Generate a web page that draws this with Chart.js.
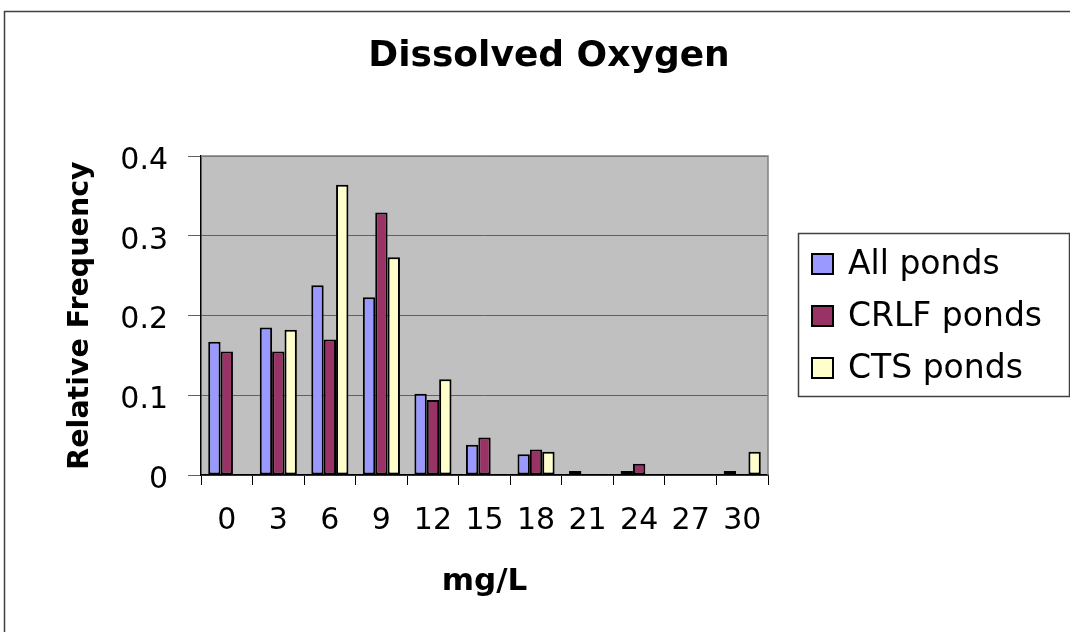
<!DOCTYPE html>
<html>
<head>
<meta charset="utf-8">
<script src="https://cdn.jsdelivr.net/npm/chart.js@4/dist/chart.umd.min.js"></script>
<style>
html,body{margin:0;padding:0;background:#fff;}
#wrap{width:1070px;height:632px;position:relative;}
</style>
</head>
<body>
<div id="wrap"><canvas id="c"></canvas></div>
<script>
const chartTitle = 'Dissolved Oxygen';
const xAxisTitle = 'mg/L';
const yAxisTitle = 'Relative Frequency';
const categories = ['0','3','6','9','12','15','18','21','24','27','30'];
const seriesNames = ['All ponds','CRLF ponds','CTS ponds'];
const allPonds  = [0.167, 0.185, 0.238, 0.223, 0.102, 0.038, 0.026, 0.005, 0.005, null, 0.005];
const crlfPonds = [0.155, 0.155, 0.170, 0.329, 0.094, 0.047, 0.032, null, 0.014, null, null];
const ctsPonds  = [null, 0.182, 0.364, 0.273, 0.120, null, 0.029, null, null, null, 0.029];
const yTickLabels = ['0','0.1','0.2','0.3','0.4'];
const seriesColors = ['#9999FF','#993366','#FFFFCC'];

const FONT = "'DejaVu Sans', sans-serif";

const decor = {
  id: 'decor',
  beforeDraw(chart) {
    const ctx = chart.ctx, a = chart.chartArea;
    ctx.save();
    ctx.fillStyle = '#ffffff';
    ctx.fillRect(0, 0, chart.width, chart.height);
    ctx.fillStyle = '#c0c0c0';
    ctx.fillRect(a.left, a.top, a.right - a.left, a.bottom - a.top);
    ctx.restore();
  },
  afterDraw(chart) {
    const ctx = chart.ctx, a = chart.chartArea;
    ctx.save();
    ctx.strokeStyle = '#808080';
    ctx.lineWidth = 1.5;
    ctx.beginPath();
    ctx.moveTo(a.left, a.top);
    ctx.lineTo(a.right, a.top);
    ctx.lineTo(a.right, a.bottom);
    ctx.stroke();
    ctx.strokeStyle = '#404040';
    ctx.lineWidth = 1.5;
    ctx.strokeRect(4.5, 11.5, chart.width + 10, chart.height + 10);
    ctx.fillStyle = '#000';
    ctx.font = "bold 36px " + FONT;
    ctx.textAlign = 'center';
    ctx.textBaseline = 'alphabetic';
    ctx.fillText(chartTitle, 549, 66);
    const lx = 798, ly = 233, lw = 271, lh = 163;
    ctx.strokeStyle = '#404040';
    ctx.lineWidth = 1.5;
    ctx.strokeRect(lx + 0.5, ly + 0.5, lw, lh);
    ctx.font = "33px " + FONT;
    ctx.textAlign = 'left';
    ctx.textBaseline = 'middle';
    chart.data.datasets.forEach((ds, i) => {
      const cy = 264 + i * 52;
      ctx.fillStyle = ds.backgroundColor;
      ctx.fillRect(812, cy - 10, 21, 20);
      ctx.strokeStyle = '#000';
      ctx.lineWidth = 2;
      ctx.strokeRect(812, cy - 10, 21, 20);
      ctx.fillStyle = '#000';
      ctx.fillText(ds.label, 848, cy + 1);
    });
    ctx.restore();
  }
};

new Chart(document.getElementById('c'), {
  type: 'bar',
  data: {
    labels: categories,
    datasets: [
      {label: seriesNames[0], data: allPonds,  backgroundColor: seriesColors[0]},
      {label: seriesNames[1], data: crlfPonds, backgroundColor: seriesColors[1]},
      {label: seriesNames[2], data: ctsPonds,  backgroundColor: seriesColors[2]}
    ].map(d => Object.assign(d, {borderColor: '#000', borderWidth: 2, barPercentage: 1, categoryPercentage: 0.72, borderSkipped: false}))
  },
  options: {
    responsive: true,
    maintainAspectRatio: false,
    animation: false,
    layout: {padding: {top: 156, right: 302, bottom: 0, left: 0}},
    plugins: {legend: {display: false}, title: {display: false}, tooltip: {enabled: false}},
    scales: {
      x: {
        grid: {display: true, drawOnChartArea: false, offset: true, tickLength: 10, color: '#000', lineWidth: 1},
        border: {display: true, color: '#000', width: 1.5},
        ticks: {color: '#000', font: {family: FONT, size: 30}, padding: 18, maxRotation: 0, autoSkip: false},
        title: {display: true, text: xAxisTitle, color: '#000', font: {family: FONT, size: 31, weight: 'bold'}, padding: {top: 0, bottom: 31}},
        afterFit(scale) { scale.height = 157; }
      },
      y: {
        min: 0, max: 0.4,
        ticks: {stepSize: 0.1, color: '#000', font: {family: FONT, size: 30}, padding: 20, labelOffset: 5,
          callback: (v) => yTickLabels[Math.round(v * 10)]},
        grid: {color: '#606060', lineWidth: 1, tickLength: 13, drawTicks: true},
        border: {display: true, color: '#000', width: 1.5},
        title: {display: true, text: yAxisTitle, color: '#000', font: {family: FONT, size: 28.5, weight: 'bold'}, padding: {top: 63, bottom: 0}},
        afterFit(scale) { scale.width = 201; }
      }
    }
  },
  plugins: [decor]
});
</script>
</body>
</html>
